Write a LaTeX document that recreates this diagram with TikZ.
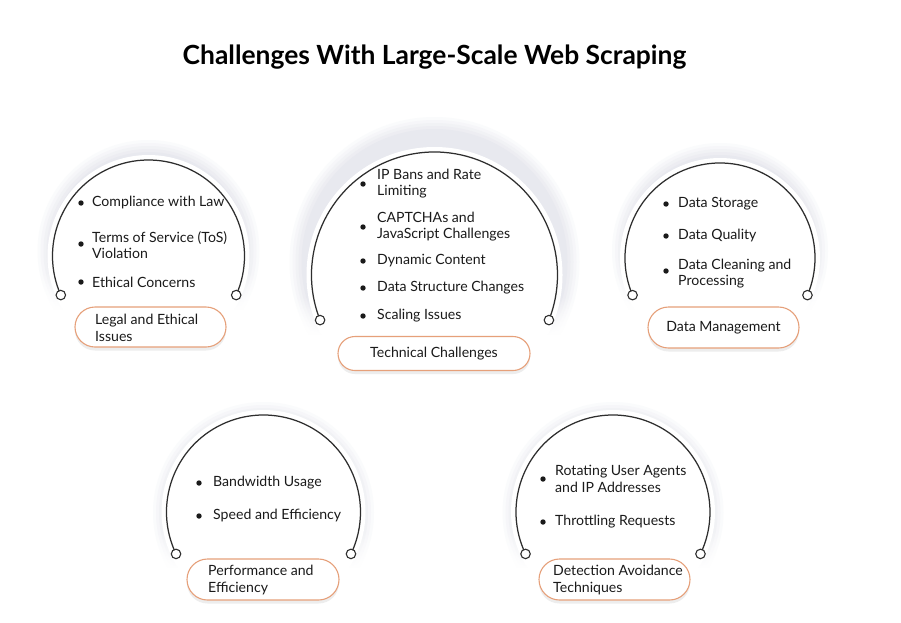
\documentclass[tikz,border=0pt]{standalone}
\usepackage{fontspec}
\setmainfont{Lato}
\usetikzlibrary{calc,fadings,shadows,shapes.misc}
\definecolor{ink}{HTML}{1A1A1A}
\definecolor{arcc}{HTML}{2E2E2E}
\definecolor{pillc}{HTML}{E6A07A}
\definecolor{glowc}{HTML}{E8E9EF}

\newcommand\glowpanel[8]{% cx cy r alpha gx gy gR name
  \begin{scope}
    \clip ({#1-#3-26},{#2-#3-60}) rectangle ({#1+#3+26},{#2+#3*sin(#4)+14});
    \fill[glowc!20] (#5,#6) circle[radius=#7];
    \fill[glowc!40] (#5,#6) circle[radius={#7-3}];
    \fill[glowc!60] (#5,#6) circle[radius={#7-6}];
    \fill[glowc!80] (#5,#6) circle[radius={#7-9}];
    \fill[glowc] (#5,#6) circle[radius={#7-12}];
    \fill[white] (#1,#2) circle[radius={#3+5}];
    \fill[white, path fading=north] ({#1-#3-26},{#2+#3*sin(#4)-24}) rectangle ({#1+#3+26},{#2+#3*sin(#4)+14.5});
  \end{scope}
  \coordinate (#8c) at (#1,#2);
  \draw[arcline] (#8c) ++(180-#4:#3) arc[start angle={180-#4}, end angle={360+#4}, radius=#3];
  \node[endcirc] (#8L) at ($(#8c)+(180-#4:#3)$) {};
  \node[endcirc] (#8R) at ($(#8c)+(#4:#3)$) {};
}

\begin{document}
\begin{tikzpicture}[x=1pt,y=-1pt,
  arcline/.style={draw=arcc, line width=1.25pt},
  endcirc/.style={circle, draw=arcc, fill=white, line width=1.1pt, minimum size=9.5pt, inner sep=0pt},
  bul/.style={circle, fill=ink, minimum size=5.4pt, inner sep=0pt},
  item/.style={anchor=west, inner sep=0pt, align=left, text=ink, font=\fontsize{14.1}{16.8}\selectfont},
  pill/.style={rounded rectangle, draw=pillc, fill=white, line width=1.1pt, inner sep=0pt,
     drop shadow={opacity=0.14, shadow xshift=0pt, shadow yshift=-3.5pt}},
  plabel/.style={inner sep=0pt, align=left, text=ink, font=\fontsize{14.1}{16.8}\selectfont},
  titlestyle/.style={font=\fontsize{26.4}{30}\selectfont\bfseries, text=black, inner sep=0pt},
]
\useasboundingbox (0,0) rectangle (901,622);
\fill[white] (0,0) rectangle (901,622);

\node[titlestyle] (title) at (434.5,57) {Challenges With Large-Scale Web Scraping};

\glowpanel{148.5}{256}{96}{24}{148.5}{251}{111}{p1}
\glowpanel{434.5}{275}{123}{21.5}{434.5}{262}{145}{p2}
\glowpanel{720}{258}{95}{23}{720}{251}{108}{p3}
\glowpanel{263.5}{512}{97}{25.6}{263.5}{512.5}{110.5}{p4}
\glowpanel{613}{512}{97}{25.6}{613}{512.5}{110.5}{p5}

% Panel 1 items
\node[bul] (b1a) at (81,203) {};
\node[item] (i1a) at (92,203) {Compliance with Law};
\node[bul] (b1b) at (81,244) {};
\node[item] (i1b) at (92,245) {Terms of Service (ToS)\\Violation};
\node[bul] (b1c) at (81,282) {};
\node[item] (i1c) at (92,282) {Ethical Concerns};

% Panel 2 items
\node[bul] (b2a) at (363,184) {};
\node[item] (i2a) at (377,183.5) {IP Bans and Rate\\Limiting};
\node[bul] (b2b) at (363,227) {};
\node[item] (i2b) at (377,226.5) {CAPTCHAs and\\JavaScript Challenges};
\node[bul] (b2c) at (363,261) {};
\node[item] (i2c) at (377,261) {Dynamic Content};
\node[bul] (b2d) at (363,288) {};
\node[item] (i2d) at (377,288) {Data Structure Changes};
\node[bul] (b2e) at (363,316) {};
\node[item] (i2e) at (377,316) {Scaling Issues};

% Panel 3 items
\node[bul] (b3a) at (666,204) {};
\node[item] (i3a) at (678,204) {Data Storage};
\node[bul] (b3b) at (666,236) {};
\node[item] (i3b) at (678,236) {Data Quality};
\node[bul] (b3c) at (666,271) {};
\node[item] (i3c) at (678,273.5) {Data Cleaning and\\Processing};

% Panel 4 items
\node[bul] (b4a) at (199,483) {};
\node[item] (i4a) at (213,483) {Bandwidth Usage};
\node[bul] (b4b) at (199,516) {};
\node[item] (i4b) at (213,516) {Speed and Efficiency};

% Panel 5 items
\node[bul] (b5a) at (543,479) {};
\node[item] (i5a) at (555,479) {Rotating User Agents\\and IP Addresses};
\node[bul] (b5b) at (543,522) {};
\node[item] (i5b) at (555,522) {Throttling Requests};

% Pills
\node[pill, minimum width=151pt, minimum height=40pt] (l1) at (150.5,327) {};
\node[plabel, anchor=west] (t1) at (95,327.5) {Legal and Ethical\\Issues};
\node[pill, minimum width=192pt, minimum height=34pt] (l2) at (434,353.5) {};
\node[plabel] (t2) at (l2.center) {Technical Challenges};
\node[pill, minimum width=151pt, minimum height=41pt] (l3) at (723.5,327.5) {};
\node[plabel] (t3) at (l3.center) {Data Management};
\node[pill, minimum width=152pt, minimum height=41pt] (l4) at (263,579.5) {};
\node[plabel, anchor=west] (t4) at (208,580) {Performance and\\Efficiency};
\node[pill, minimum width=151pt, minimum height=41pt] (l5) at (614.5,579.5) {};
\node[plabel, anchor=west] (t5) at (553,580) {Detection Avoidance\\Techniques};
\end{tikzpicture}
\end{document}
